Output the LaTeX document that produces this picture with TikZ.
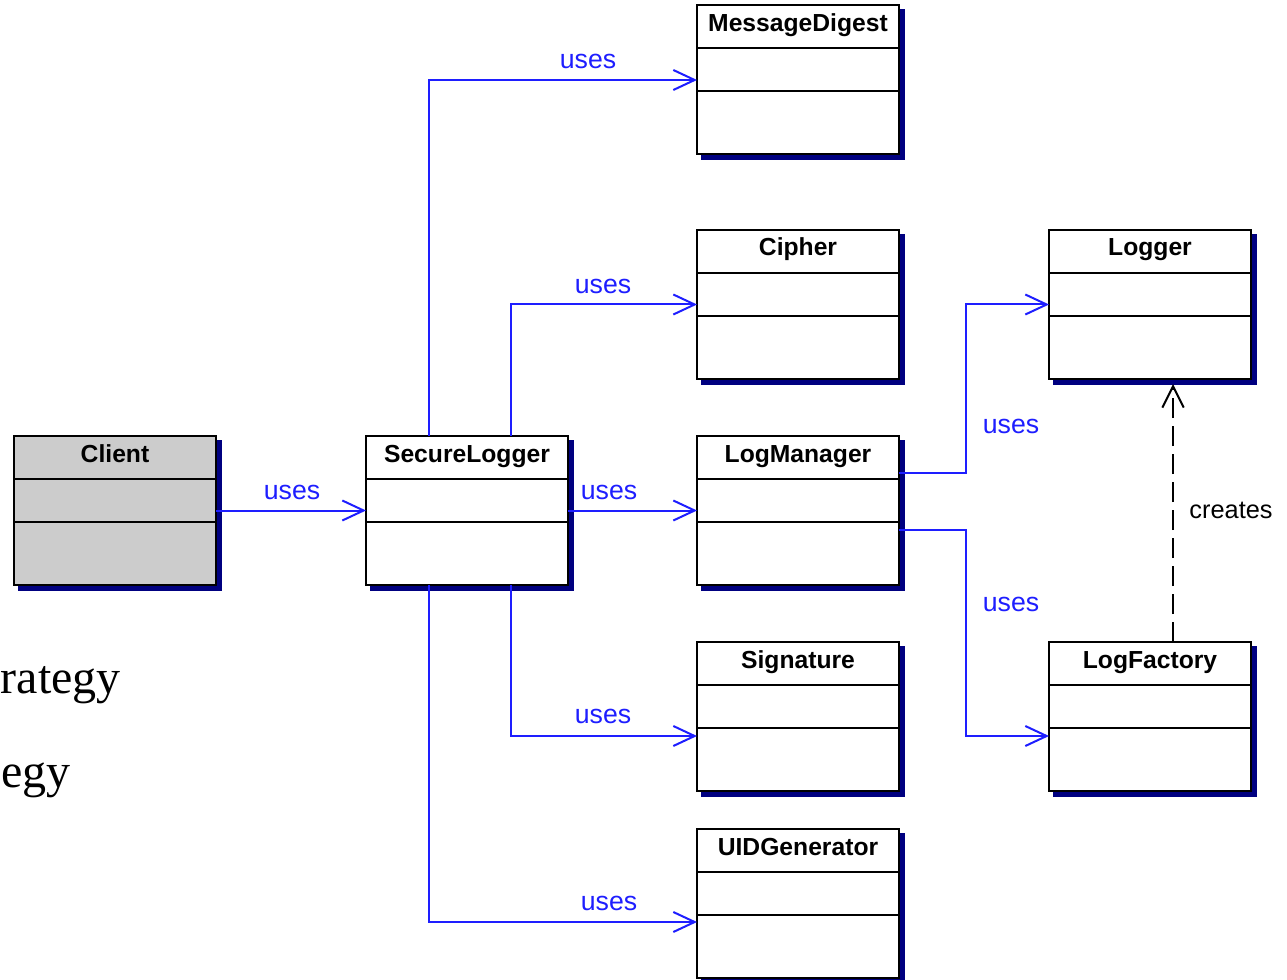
\documentclass[tikz,border=0pt]{standalone}
\usepackage{fontspec}
\setmainfont{Liberation Sans}
\newfontfamily\serifface{Liberation Serif}
\usetikzlibrary{arrows.meta,shadows}

\definecolor{umlblue}{RGB}{30,30,255}
\definecolor{umlshadow}{RGB}{0,0,128}
\definecolor{umlgray}{RGB}{204,204,204}

\begin{document}
\begin{tikzpicture}[x=0.75pt,y=-0.75pt,
  umlclass/.style={draw=black, line width=1.5pt, fill=white,
    minimum width=151.5pt, minimum height=111.75pt, inner sep=0pt, outer sep=0pt,
    copy shadow={shadow xshift=3.75pt, shadow yshift=-3.75pt,
      fill=umlshadow, draw=umlshadow, line width=1.5pt},
    path picture={
      \draw[line width=1.5pt]
        ([yshift=-32.25pt]path picture bounding box.north west) --
        ([yshift=-32.25pt]path picture bounding box.north east)
        ([yshift=-64.5pt]path picture bounding box.north west) --
        ([yshift=-64.5pt]path picture bounding box.north east);
    }},
  classtitle/.style={anchor=base, inner sep=0pt,
    font=\fontsize{18.5}{20}\selectfont\bfseries},
  uses/.style={draw=umlblue, line width=1.5pt,
    -{Straight Barb[length=16pt,width=15pt,line width=1.5pt]}},
  creates/.style={draw=black, line width=1.5pt, dash pattern=on 15pt off 6pt,
    -{Straight Barb[length=16pt,width=16pt,line width=1.5pt]}},
  useslabel/.style={anchor=base, inner sep=0pt, text=umlblue,
    font=\fontsize{20}{22}\selectfont},
  noteslabel/.style={anchor=base, inner sep=0pt, text=black,
    font=\fontsize{19}{21}\selectfont},
  bodytext/.style={anchor=base east, inner sep=0pt,
    font=\serifface\fontsize{36}{40}\selectfont}
]
\useasboundingbox (0,0) rectangle (1287,980);

% left-hand body text
\node[bodytext] (txtA) at (121,693) {rategy};
\node[bodytext] (txtB) at (71,787) {egy};

% classes
\node[umlclass] (md)     at (798,80)    {};
\node[umlclass] (cipher) at (798,304.5) {};
\node[umlclass] (logger) at (1150,304.5){};
\node[umlclass, fill=umlgray] (client) at (115,510.5) {};
\node[umlclass] (sl)     at (467,510.5) {};
\node[umlclass] (lm)     at (798,510.5) {};
\node[umlclass] (sig)    at (798,716.5) {};
\node[umlclass] (lf)     at (1150,716.5){};
\node[umlclass] (uid)    at (798,903.5) {};

% class names
\node[classtitle] (mdT)     at ([yshift=-19.5pt]md.north)     {MessageDigest};
\node[classtitle] (cipherT) at ([yshift=-19.5pt]cipher.north) {Cipher};
\node[classtitle] (loggerT) at ([yshift=-19.5pt]logger.north) {Logger};
\node[classtitle] (clientT) at ([yshift=-19.5pt]client.north) {Client};
\node[classtitle] (slT)     at ([yshift=-19.5pt]sl.north)     {SecureLogger};
\node[classtitle] (lmT)     at ([yshift=-19.5pt]lm.north)     {LogManager};
\node[classtitle] (sigT)    at ([yshift=-19.5pt]sig.north)    {Signature};
\node[classtitle] (lfT)     at ([yshift=-19.5pt]lf.north)     {LogFactory};
\node[classtitle] (uidT)    at ([yshift=-19.5pt]uid.north)    {UIDGenerator};

% dependencies
\draw[uses] (client.east) -- (sl.west);
\draw[uses] (sl.east) -- (lm.west);
\draw[uses] ([xshift=47.25pt]sl.north west)  |- (md.west);
\draw[uses] ([xshift=108.75pt]sl.north west) |- (cipher.west);
\draw[uses] ([xshift=108.75pt]sl.south west) |- ([yshift=-70.5pt]sig.north west);
\draw[uses] ([xshift=47.25pt]sl.south west)  |- ([yshift=-69.75pt]uid.north west);
\draw[uses] ([yshift=-27.75pt]lm.north east) -- ++(67,0) |- (logger.west);
\draw[uses] ([yshift=-70.5pt]lm.north east)  -- ++(67,0) |- ([yshift=-70.5pt]lf.north west);
\draw[creates] ([xshift=17.25pt]lf.north) -- ([xshift=17.25pt,yshift=-3.75pt]logger.south);

% connector labels
\node[useslabel] (u1) at (292,499.5)  {uses};
\node[useslabel] (u2) at (609,499.5)  {uses};
\node[useslabel] (u3) at (588,68.5)   {uses};
\node[useslabel] (u4) at (603,293.5)  {uses};
\node[useslabel] (u5) at (603,723.5)  {uses};
\node[useslabel] (u6) at (609,910.5)  {uses};
\node[useslabel] (u7) at (1011,433.5) {uses};
\node[useslabel] (u8) at (1011,611.5) {uses};
\node[noteslabel] (cr) at (1231,518) {creates};
\end{tikzpicture}
\end{document}
